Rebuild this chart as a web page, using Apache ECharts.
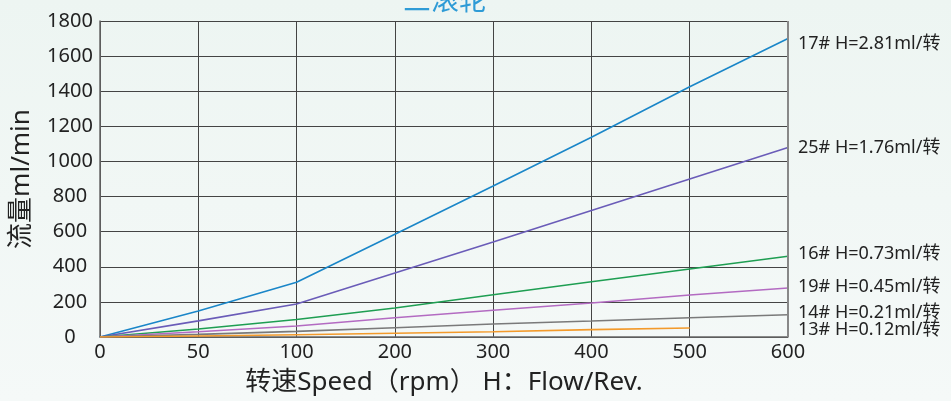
<!DOCTYPE html>
<html>
<head>
<meta charset="utf-8">
<script src="https://cdn.jsdelivr.net/npm/echarts@6/dist/echarts.min.js"></script>
<style>
html,body{margin:0;padding:0;}
#c{width:951px;height:401px;background:linear-gradient(#edf5f2,#f5f9f8);}
</style>
</head>
<body>
<div id="c"></div>
<script>
// ---- data ----
var speeds = ['0','50','100','200','300','400','500','600'];
var names = ['17#','25#','16#','19#','14#','13#'];
var labels = ['17# H=2.81ml/转','25# H=1.76ml/转','16# H=0.73ml/转','19# H=0.45ml/转','14# H=0.21ml/转','13# H=0.12ml/转'];
var s17 = [0,148,312,585,860,1138,1425,1700];
var s25 = [0,92,188,365,541,720,900,1080];
var s16 = [0,46,100,165,241,315,387,460];
var s19 = [0,30,63,110,152,194,239,279];
var s14 = [0,15,32,53,74,91,110,127];
var s13 = [0,6,13,21,30,42,51];
var labelAnchors = [1669,1078,473,286,135,40];
var yTicks = {min:0, max:1800, interval:200};

var colors = ['#1a86c8','#6a5cb8','#1e9e52','#b36bc2','#7a7a7a','#f39a2b'];
var seriesData = [s17,s25,s16,s19,s14,s13];
var FONT = "'Noto Sans','Noto Sans CJK SC',sans-serif";

var chart = echarts.init(document.getElementById('c'));
chart.setOption({
  animation:false,
  backgroundColor:'transparent',
  title:{
    text:'三滚轮', left:398, top:-17,
    textStyle:{color:'#2e9bd6', fontSize:28, fontWeight:'normal', fontFamily:FONT}
  },
  grid:{left:100, right:163, top:21, bottom:64, containLabel:false, outerBoundsMode:'none'},
  xAxis:{
    type:'category', data:speeds, boundaryGap:false,
    name:'转速Speed（rpm） H：Flow/Rev.', nameLocation:'middle', nameGap:33,
    nameTextStyle:{color:'#222', fontSize:26, fontFamily:FONT},
    axisLine:{lineStyle:{color:'#666', width:1.5}},
    axisTick:{show:false},
    axisLabel:{color:'#222', fontSize:20, margin:5, fontFamily:FONT},
    splitLine:{show:true, lineStyle:{color:'#444', width:1}}
  },
  yAxis:{
    type:'value', min:yTicks.min, max:yTicks.max, interval:yTicks.interval,
    name:'流量ml/min', nameLocation:'middle', nameGap:65, nameRotate:90,
    nameTextStyle:{color:'#222', fontSize:26, fontFamily:FONT},
    axisLine:{show:true, lineStyle:{color:'#666', width:1.5}},
    axisTick:{show:false},
    axisLabel:{color:'#222', fontSize:20, margin:30, align:'center', fontFamily:FONT,
      formatter:function(v){return String(v);}},
    splitLine:{show:true, lineStyle:{color:'#444', width:1}}
  },
  series: seriesData.map(function(d,i){
    return {
      name:names[i], type:'line', data:d, symbol:'none',
      lineStyle:{color:colors[i], width:1.6}, z:3
    };
  })
});

// right border line & right labels
var xr = chart.convertToPixel({xAxisIndex:0}, '600');
var yTop = chart.convertToPixel({yAxisIndex:0}, yTicks.max);
var yBot = chart.convertToPixel({yAxisIndex:0}, yTicks.min);
var g = [{
  type:'line', shape:{x1:xr, y1:yTop, x2:xr, y2:yBot},
  style:{stroke:'#888', lineWidth:2}, z:10
}];
labels.forEach(function(t,i){
  g.push({
    type:'text', x:xr+10, y:chart.convertToPixel({yAxisIndex:0}, labelAnchors[i]),
    style:{text:t, fill:'#222', font:'18px '+FONT, textVerticalAlign:'middle', textAlign:'left'}, z:10
  });
});
chart.setOption({graphic:g});
</script>
</body>
</html>
